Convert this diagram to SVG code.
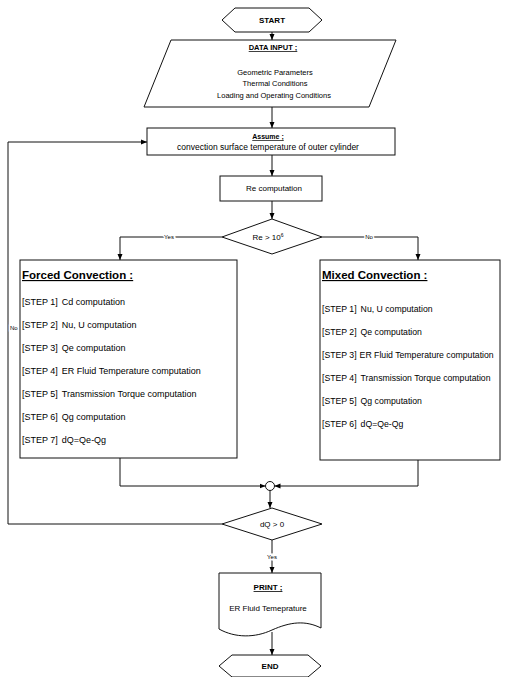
<svg xmlns="http://www.w3.org/2000/svg" width="512" height="677" viewBox="0 0 512 677">
<defs>
<style>
.ln{fill:none;stroke:#111;stroke-width:1}
.nd{fill:#fff;stroke:#111;stroke-width:1}
.t{font-family:"Liberation Sans",Arial,sans-serif;font-size:8px;fill:#000}
.c{text-anchor:middle}
.b{font-weight:bold}
.u{text-decoration:underline}
.lbl{font-family:"Liberation Sans",Arial,sans-serif;font-size:6px;fill:#000;paint-order:stroke;stroke:#fff;stroke-width:3px}
.st{font-family:"Liberation Sans",Arial,sans-serif;font-size:9px;fill:#000}
.sm{font-family:"Liberation Sans",Arial,sans-serif;font-size:8.7px;fill:#000}
.ti{font-family:"Liberation Sans",Arial,sans-serif;font-size:11.5px;font-weight:bold;text-decoration:underline;fill:#000}
</style>
<marker id="ah" markerWidth="6" markerHeight="6" refX="6" refY="3" orient="auto" markerUnits="userSpaceOnUse"><path d="M0,0.5 L6,3 L0,5.5 z" fill="#000"/></marker>
</defs>
<rect width="512" height="677" fill="#fff"/>

<g id="connectors" class="ln">
<path d="M272,32 V40" marker-end="url(#ah)"/>
<path d="M272,107 V128" marker-end="url(#ah)"/>
<path d="M272,155 V176" marker-end="url(#ah)"/>
<path d="M272,201 V219" marker-end="url(#ah)"/>
<path d="M222,237 H120 V260" marker-end="url(#ah)"/>
<path d="M322,237 H418 V260" marker-end="url(#ah)"/>
<path d="M120,458 V486 H265.5" marker-end="url(#ah)"/>
<path d="M418,460 V486 H274.5" marker-end="url(#ah)"/>
<path d="M270,490.5 V508" marker-end="url(#ah)"/>
<path d="M222,524 H8 V142 H147" marker-end="url(#ah)"/>
<path d="M272,540 V573" marker-end="url(#ah)"/>
<path d="M272,632 V655" marker-end="url(#ah)"/>
</g>
<g id="labels">
<text class="lbl c" x="169" y="239">Yes</text>
<text class="lbl c" x="369" y="239">No</text>
<text class="lbl" x="10" y="330">No</text>
<text class="lbl c" x="272" y="559">Yes</text>
</g>

<g id="start">
<polygon class="nd" points="222,20 235,8 309,8 322,20 309,32 235,32"/>
<text class="t c b" x="272" y="23">START</text>
</g>

<g id="data-input">
<polygon class="nd" points="171,40 396,40 369,107 144,107"/>
<text class="t c b u" x="273" y="50" style="font-size:7.5px">DATA INPUT ;</text>
<text class="t c" x="275" y="75" style="font-size:7.5px">Geometric Parameters</text>
<text class="t c" x="275" y="86" style="font-size:7.5px">Thermal Conditions</text>
<text class="t c" x="274" y="98" style="font-size:7.5px">Loading and Operating Conditions</text>
</g>

<g id="assume">
<rect class="nd" x="147" y="128" width="248" height="27"/>
<text class="t c b u" x="268" y="139" style="font-size:7px">Assume ;</text>
<text class="t c" x="268" y="150" style="font-size:8.5px">convection surface temperature of outer cylinder</text>
</g>

<g id="re-computation">
<rect class="nd" x="220" y="176" width="102" height="25"/>
<text class="t c" x="274" y="191">Re computation</text>
</g>

<g id="re-decision">
<polygon class="nd" points="272,219 322,237 272,254 222,237"/>
<text class="t c" x="268" y="240">Re &gt; 10<tspan dy="-3" style="font-size:5px">6</tspan></text>
</g>

<g id="forced">
<rect class="nd" x="20" y="260" width="217" height="198"/>
<text class="ti" x="22" y="279">Forced Convection :</text>
<text class="st" x="22" y="305">[STEP 1]<tspan dx="4">Cd computation</tspan></text>
<text class="st" x="22" y="328">[STEP 2]<tspan dx="4">Nu, U computation</tspan></text>
<text class="st" x="22" y="351">[STEP 3]<tspan dx="4">Qe computation</tspan></text>
<text class="st" x="22" y="374">[STEP 4]<tspan dx="4">ER Fluid Temperature computation</tspan></text>
<text class="st" x="22" y="397">[STEP 5]<tspan dx="4">Transmission Torque computation</tspan></text>
<text class="st" x="22" y="420">[STEP 6]<tspan dx="4">Qg computation</tspan></text>
<text class="st" x="22" y="443">[STEP 7]<tspan dx="4">dQ=Qe-Qg</tspan></text>
</g>

<g id="mixed">
<rect class="nd" x="320" y="260" width="180" height="200"/>
<text class="ti" x="322" y="279">Mixed Convection :</text>
<text class="sm" x="322" y="312">[STEP 1]<tspan dx="4">Nu, U computation</tspan></text>
<text class="sm" x="322" y="335">[STEP 2]<tspan dx="4">Qe computation</tspan></text>
<text class="sm" x="322" y="358">[STEP 3]<tspan dx="3">ER Fluid Temperature computation</tspan></text>
<text class="sm" x="322" y="381">[STEP 4]<tspan dx="4">Transmission Torque computation</tspan></text>
<text class="sm" x="322" y="404">[STEP 5]<tspan dx="4">Qg computation</tspan></text>
<text class="sm" x="322" y="427">[STEP 6]<tspan dx="4">dQ=Qe-Qg</tspan></text>
</g>

<g id="merge">
<circle class="nd" cx="270" cy="486" r="4.5"/>
</g>

<g id="dq-decision">
<polygon class="nd" points="272,508 322,524 272,540 222,524"/>
<text class="t c" x="272" y="527">dQ &gt; 0</text>
</g>

<g id="print">
<path class="nd" d="M219,573 H321 V628 C305,620 290,622 272,630 C255,638 235,638 219,629 Z"/>
<text class="t c b u" x="268" y="590">PRINT ;</text>
<text class="t c" x="268" y="611">ER Fluid Temeprature</text>
</g>

<g id="end">
<polygon class="nd" points="219,666 232,655 308,655 321,666 308,677 232,677"/>
<text class="t c b" x="270" y="669">END</text>
</g>
</svg>
